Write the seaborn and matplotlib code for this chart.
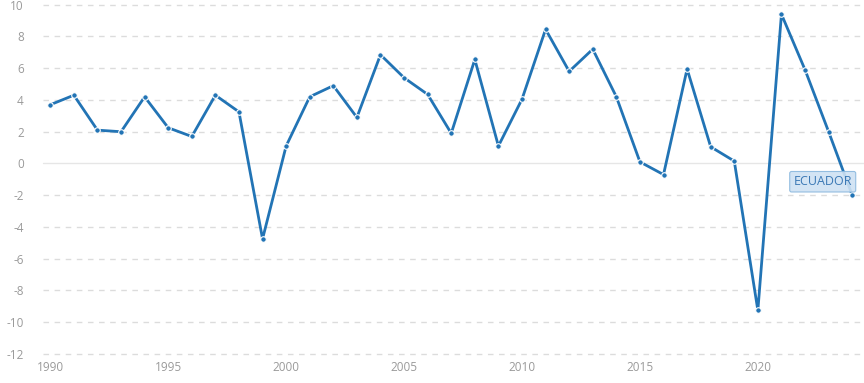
import matplotlib
matplotlib.use("Agg")
import matplotlib.pyplot as plt
import seaborn as sns
import pandas as pd

years = list(range(1990, 2025))
growth = [3.7, 4.3, 2.1, 2.0, 4.2, 2.25, 1.7, 4.3, 3.25, -4.75,
          1.1, 4.2, 4.9, 2.9, 6.85, 5.4, 4.35, 1.9, 6.55, 1.1,
          4.05, 8.45, 5.8, 7.2, 4.2, 0.1, -0.7, 5.95, 1.05, 0.15,
          -9.25, 9.4, 5.9, 2.0, -2.0]
series_label = "ECUADOR"
yticks = list(range(-12, 11, 2))
xticks = [1990, 1995, 2000, 2005, 2010, 2015, 2020]

df = pd.DataFrame({"year": years, "value": growth})

sns.set_style("white")
plt.rcParams['font.family'] = ['Open Sans', 'DejaVu Sans']
plt.rcParams['axes.unicode_minus'] = False

fig = plt.figure(figsize=(8.64, 3.83), dpi=100)
ax = fig.add_axes([0.05, 0.0757, 0.95, 0.912])

line_color = "#2274b5"
for y in yticks:
    if y == 0:
        ax.axhline(y, color="#e6e6e6", lw=1.0, zorder=0, clip_on=False)
    else:
        ax.axhline(y, color="#dcdcdc", lw=1.0, ls=(0, (4, 4)), zorder=0,
                   clip_on=False)

sns.lineplot(data=df, x="year", y="value", ax=ax, color=line_color, lw=2.0,
             marker="o", markersize=4.0, markeredgecolor="white",
             markeredgewidth=0.8, zorder=3)

ax.set_xlim(1989.7, 2024.5)
ax.set_ylim(-12, 10)
ax.set_yticks(yticks)
ax.set_xticks(xticks)
ax.set_xlabel("")
ax.set_ylabel("")
for s in ax.spines.values():
    s.set_visible(False)
ax.tick_params(axis="y", length=0, pad=14, labelsize=8.5, labelcolor="#9a9a9a")
ax.tick_params(axis="x", length=3, width=0.8, color="#cccccc", direction="out",
               pad=2, labelsize=8.5, labelcolor="#9a9a9a")
ax.grid(False)

ax.text(2022.75, -1.15, series_label, ha="center", va="center", fontsize=9,
        color="#3a78b5", zorder=5,
        bbox=dict(boxstyle="round,pad=0.3,rounding_size=0.15", fc="#cfe2f3",
                  ec="#8ab8de", lw=0.8, alpha=0.9))

fig.savefig("out.png", dpi=100)
